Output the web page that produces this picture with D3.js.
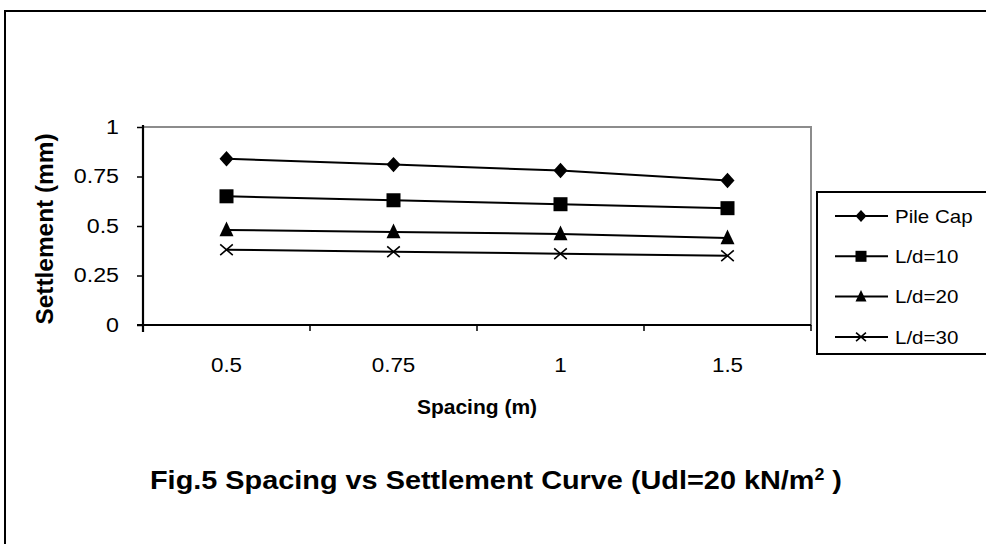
<!DOCTYPE html>
<html><head><meta charset="utf-8">
<script src="https://cdn.jsdelivr.net/npm/d3@7"></script>
<style>
html,body{margin:0;padding:0;background:#fff;}
svg{display:block;font-family:"Liberation Sans",Arial,sans-serif;}
</style></head>
<body>
<svg id="chart" width="986" height="544"></svg>
<script>
const categories = ["0.5","0.75","1","1.5"];
const seriesNames = ["Pile Cap","L/d=10","L/d=20","L/d=30"];
const pileCap = [0.84,0.81,0.78,0.73];
const ld10 = [0.65,0.63,0.61,0.59];
const ld20 = [0.48,0.47,0.46,0.44];
const ld30 = [0.38,0.37,0.36,0.35];
const yTicks = [0,0.25,0.5,0.75,1];
const yTickLabels = ["0","0.25","0.5","0.75","1"];
const markers = ["diamond","square","triangle","cross"];
const seriesValues = [pileCap, ld10, ld20, ld30];

const svg = d3.select("#chart");
function stretch(sel, f){
  sel.each(function(){
    const w = this.getComputedTextLength();
    d3.select(this).attr("textLength", w*f).attr("lengthAdjust","spacingAndGlyphs");
  });
}
// outer frame
svg.append("rect").attr("x",5).attr("y",11).attr("width",1100).attr("height",700)
  .attr("fill","none").attr("stroke","#000").attr("stroke-width",2);

const L=143,R=811,T=127,B=325;
const x = d3.scaleBand().domain(categories).range([L,R]).padding(0);
const y = d3.scaleLinear().domain([0,1]).range([B,T]);

// plot border (gray)
svg.append("rect").attr("x",L).attr("y",T).attr("width",R-L).attr("height",B-T)
  .attr("fill","none").attr("stroke","#8c8c8c").attr("stroke-width",2);

// y axis
const yAxis = d3.axisLeft(y).tickValues(yTicks).tickSize(6).tickPadding(18)
  .tickFormat((d,i)=>yTickLabels[i]);
const gy = svg.append("g").attr("transform",`translate(${L},0)`).call(yAxis);
gy.select(".domain").attr("d",`M0,${T-2}V${B+7}`).attr("stroke","#000").attr("stroke-width",2.2);
gy.selectAll(".tick line").attr("stroke","#000").attr("stroke-width",1.5);
gy.selectAll(".tick text").attr("font-size",20).attr("fill","#000")
  .attr("font-family","Liberation Sans, Arial, sans-serif");
stretch(gy.selectAll(".tick text"), 1.16);

// x axis
const xAxis = d3.axisBottom(x).tickSize(0).tickPadding(33);
const gx = svg.append("g").attr("transform",`translate(0,${B})`).call(xAxis);
gx.select(".domain").attr("d",`M${L-6},0H${R}`).attr("stroke","#000").attr("stroke-width",2.2);
gx.selectAll(".tick text").attr("font-size",20).attr("fill","#000")
  .attr("font-family","Liberation Sans, Arial, sans-serif");
stretch(gx.selectAll(".tick text"), 1.12);
const edges = categories.map(c=>x(c)).concat([R]);
gx.selectAll(".edge").data(edges).enter().append("line")
  .attr("x1",d=>d).attr("x2",d=>d).attr("y1",0).attr("y2",6)
  .attr("stroke","#000").attr("stroke-width",1.5);

// axis titles
const xt = svg.append("text").attr("x",477).attr("y",414).attr("text-anchor","middle")
  .attr("font-size",21).attr("font-weight","bold").text("Spacing (m)");
const yt = svg.append("text").attr("transform","translate(53,229) rotate(-90)").attr("text-anchor","middle")
  .attr("font-size",23).attr("font-weight","bold").text("Settlement (mm)");
stretch(yt, 1.06);

// marker drawing
function drawMarker(g, type, cx, cy, s){
  if(type==="diamond"){
    g.append("path").attr("d",`M${cx},${cy-s*0.55}L${cx+s*0.5},${cy}L${cx},${cy+s*0.55}L${cx-s*0.5},${cy}Z`).attr("fill","#000");
  } else if(type==="square"){
    g.append("rect").attr("x",cx-s/2).attr("y",cy-s/2).attr("width",s).attr("height",s).attr("fill","#000");
  } else if(type==="triangle"){
    g.append("path").attr("d",`M${cx},${cy-s*0.6}L${cx+s*0.5},${cy+s*0.45}L${cx-s*0.5},${cy+s*0.45}Z`).attr("fill","#000");
  } else {
    const h=s*0.45;
    g.append("path").attr("d",`M${cx-h},${cy-h*0.85}L${cx+h},${cy+h*0.85}M${cx-h},${cy+h*0.85}L${cx+h},${cy-h*0.85}`)
      .attr("stroke","#000").attr("stroke-width",1.6).attr("fill","none");
  }
}

const line = d3.line().x((d,i)=>x(categories[i])+x.bandwidth()/2).y(d=>y(d));
const plotG = svg.append("g");
seriesValues.forEach((vals,si)=>{
  plotG.append("path").datum(vals).attr("d",line).attr("fill","none").attr("stroke","#000").attr("stroke-width",2);
});
seriesValues.forEach((vals,si)=>{
  vals.forEach((v,i)=>{
    drawMarker(plotG, markers[si], x(categories[i])+x.bandwidth()/2, y(v), 14);
  });
});

// legend
const lg = svg.append("g");
lg.append("rect").attr("x",817).attr("y",192).attr("width",300).attr("height",162)
  .attr("fill","#fff").attr("stroke","#000").attr("stroke-width",2);
seriesNames.forEach((n,i)=>{
  const yy = 216 + i*40.3;
  lg.append("line").attr("x1",835).attr("x2",888).attr("y1",yy).attr("y2",yy).attr("stroke","#000").attr("stroke-width",2);
  drawMarker(lg, markers[i], 861, yy, 11);
  const tx = lg.append("text").attr("x",895).attr("y",yy).attr("dy","0.36em").attr("font-size",19).text(n);
  stretch(tx, 1.08);
});

// figure title
const t = svg.append("text").attr("x",150).attr("y",489).attr("font-size",26).attr("font-weight","bold")
  .attr("textLength",692).attr("lengthAdjust","spacingAndGlyphs");
t.append("tspan").text("Fig.5 Spacing vs Settlement Curve  (Udl=20 kN/m");
t.append("tspan").attr("font-size",16).attr("dy",-9).text("2");
t.append("tspan").attr("dy",9).text(" )");
</script>
</body></html>
